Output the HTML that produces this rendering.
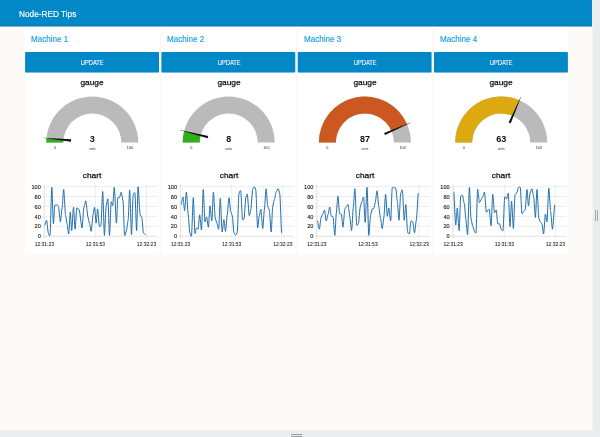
<!DOCTYPE html><html><head><meta charset="utf-8"><title>Node-RED Tips</title><style>
html,body{margin:0;padding:0}
body{width:600px;height:437px;overflow:hidden;background:#fcf9f7;font-family:"Liberation Sans",sans-serif;position:relative}
#hdr{position:absolute;left:0;top:0;width:592.2px;height:26px;color:#fff}
#hdr span{position:absolute;left:19.4px;top:8.7px;font-size:8.9px;transform:scaleX(0.93);transform-origin:0 0;-webkit-text-stroke:0.15px #fff;line-height:10px;white-space:nowrap}
#rs{position:absolute;left:592.5px;top:0;width:7.5px;height:437px;}
#rs i{position:absolute;top:210px;height:11px;width:1px;background:#a9a9a9}
#bs{position:absolute;left:0;top:430.4px;width:600px;height:6.6px}
#bs i{position:absolute;left:291.2px;width:11px;height:1.1px;background:#9c9c9c}
.col{position:absolute;top:25.8px;width:134px;height:227.6px}
.gt{position:absolute;left:5.9px;top:8.5px;font-size:8.7px;transform:scaleX(0.93);transform-origin:0 0;line-height:10px;color:#169fe0;-webkit-text-stroke:0.15px #169fe0;white-space:nowrap}
.btn{position:absolute;left:0;top:26.5px;width:133.9px;height:20.1px;color:#fff;text-align:center;font-size:6.4px;line-height:21.6px;-webkit-text-stroke:0.1px #fff}
.btn span{display:inline-block;transform:translateX(0.5px) scaleX(0.9)}
.lbl{position:absolute;left:0.3px;width:134px;text-align:center;font-size:7.8px;line-height:10px;color:#111;-webkit-text-stroke:0.25px #111;transform:scaleX(1.07)}
.gval{font-size:9px;font-weight:bold;fill:#111}
.gunit{font-size:3.2px;fill:#333}
.gmm{font-size:3.8px;fill:#333}
.xt{font-size:5.6px !important;stroke-width:0.08px !important}
.ctick{font-size:5.6px;fill:#222;stroke:#222;stroke-width:0.12px}
</style></head><body><svg id="bg" width="600" height="437" viewBox="0 0 600 437"><defs><linearGradient id="hs" x1="0" y1="0" x2="0" y2="1"><stop offset="0" stop-color="#014a8a" stop-opacity="0"/><stop offset="1" stop-color="#014a8a" stop-opacity="0.42"/></linearGradient></defs><rect x="25.1" y="26" width="543.3" height="228.7" fill="#ffffff"/><rect x="0" y="0" width="592.2" height="26.4" fill="#0288c7"/><rect x="0" y="24.6" width="592.2" height="1.8" fill="url(#hs)"/><rect x="592.1" y="0" width="0.5" height="437" fill="#ffffff"/><rect x="592.5" y="0" width="7.5" height="437" fill="#ebecee"/><rect x="0" y="430.4" width="600" height="6.6" fill="#ebecee"/><rect x="25.10" y="72.0" width="133.9" height="0.7" rx="0.3" fill="#000" fill-opacity="0.10"/><rect x="25.10" y="52.05" width="133.9" height="20.35" rx="0.9" fill="#0288c7"/><rect x="159.85" y="26.4" width="0.5" height="228.3" fill="#f4efeb"/><rect x="161.40" y="72.0" width="133.9" height="0.7" rx="0.3" fill="#000" fill-opacity="0.10"/><rect x="161.40" y="52.05" width="133.9" height="20.35" rx="0.9" fill="#0288c7"/><rect x="296.15" y="26.4" width="0.5" height="228.3" fill="#f4efeb"/><rect x="297.70" y="72.0" width="133.9" height="0.7" rx="0.3" fill="#000" fill-opacity="0.10"/><rect x="297.70" y="52.05" width="133.9" height="20.35" rx="0.9" fill="#0288c7"/><rect x="432.45" y="26.4" width="0.5" height="228.3" fill="#f4efeb"/><rect x="434.00" y="72.0" width="133.9" height="0.7" rx="0.3" fill="#000" fill-opacity="0.10"/><rect x="434.00" y="52.05" width="133.9" height="20.35" rx="0.9" fill="#0288c7"/><g transform="translate(25.20,72)"><path d="M21.10,70.50 A46,46 0 0 1 113.10,70.50 L96.10,70.50 A29,29 0 0 0 38.10,70.50 Z" fill="#bababa"/><path d="M21.10,70.50 A46,46 0 0 1 21.30,66.17 L38.23,67.77 A29,29 0 0 0 38.10,70.50 Z" fill="#2fb01a"/><path d="M17.33,65.71 L45.91,67.29 L45.68,69.68 L17.31,65.87 Z" fill="#111"/><text x="67.10" y="69.90" text-anchor="middle" class="gval">3</text><text x="67.10" y="77.60" text-anchor="middle" class="gunit">units</text><text x="29.60" y="76.90" text-anchor="middle" class="gmm">0</text><text x="104.80" y="76.70" text-anchor="middle" class="gmm">100</text></g><g transform="translate(25.40,160.5)"><line x1="16.90" y1="75.80" x2="131.80" y2="75.80" stroke="#dedede" stroke-width="0.55"/><line x1="16.90" y1="65.86" x2="131.80" y2="65.86" stroke="#dedede" stroke-width="0.55"/><line x1="16.90" y1="55.92" x2="131.80" y2="55.92" stroke="#dedede" stroke-width="0.55"/><line x1="16.90" y1="45.98" x2="131.80" y2="45.98" stroke="#dedede" stroke-width="0.55"/><line x1="16.90" y1="36.04" x2="131.80" y2="36.04" stroke="#dedede" stroke-width="0.55"/><line x1="16.90" y1="26.10" x2="131.80" y2="26.10" stroke="#dedede" stroke-width="0.55"/><line x1="18.90" y1="24.10" x2="18.90" y2="78.30" stroke="#dedede" stroke-width="0.55"/><line x1="70.00" y1="24.10" x2="70.00" y2="78.30" stroke="#dedede" stroke-width="0.55"/><line x1="121.10" y1="24.10" x2="121.10" y2="78.30" stroke="#dedede" stroke-width="0.55"/><line x1="18.90" y1="24.10" x2="18.90" y2="78.30" stroke="#d4d4d4" stroke-width="0.4"/><line x1="16.90" y1="75.80" x2="131.80" y2="75.80" stroke="#d4d4d4" stroke-width="0.4"/><text x="15.40" y="77.90" text-anchor="end" class="ctick">0</text><text x="15.40" y="67.96" text-anchor="end" class="ctick">20</text><text x="15.40" y="58.02" text-anchor="end" class="ctick">40</text><text x="15.40" y="48.08" text-anchor="end" class="ctick">60</text><text x="15.40" y="38.14" text-anchor="end" class="ctick">80</text><text x="15.40" y="28.20" text-anchor="end" class="ctick">100</text><text x="18.90" y="85.00" text-anchor="middle" class="ctick xt" textLength="19.3" lengthAdjust="spacingAndGlyphs">12:31:23</text><text x="70.00" y="85.00" text-anchor="middle" class="ctick xt" textLength="19.3" lengthAdjust="spacingAndGlyphs">12:31:53</text><text x="121.10" y="85.00" text-anchor="middle" class="ctick xt" textLength="19.3" lengthAdjust="spacingAndGlyphs">12:32:23</text><path d="M19.50,64.60 C19.72,64.41 20.76,59.49 21.20,59.80 C21.64,60.11 22.46,71.91 22.90,72.50 C23.34,73.09 24.15,76.68 24.60,74.90 C25.05,73.12 25.96,27.35 26.40,26.90 C26.84,26.45 27.60,62.61 28.00,63.30 C28.40,63.99 28.99,45.44 29.50,44.70 C30.01,43.96 31.42,44.32 31.90,44.40 C32.38,44.48 32.80,46.14 33.20,46.80 C33.60,47.46 34.55,61.17 35.00,61.20 C35.45,61.23 36.27,48.76 36.70,47.50 C37.13,46.24 37.86,28.63 38.30,28.90 C38.74,29.17 39.66,52.96 40.10,54.30 C40.54,55.64 41.28,62.55 41.70,63.30 C42.12,64.05 42.88,73.96 43.30,73.50 C43.72,73.04 44.51,51.73 44.90,51.60 C45.29,51.47 45.88,70.29 46.30,70.10 C46.72,69.91 47.66,46.85 48.10,46.80 C48.54,46.75 49.26,68.67 49.70,68.70 C50.14,68.73 50.97,48.25 51.50,47.50 C52.03,46.75 53.14,48.72 53.80,49.50 C54.46,50.28 56.00,67.48 56.60,67.40 C57.20,67.32 57.91,48.56 58.40,47.50 C58.89,46.44 59.87,39.95 60.40,40.30 C60.93,40.65 62.02,55.53 62.50,56.40 C62.98,57.27 63.67,62.04 64.10,62.60 C64.53,63.16 65.34,71.12 65.80,70.80 C66.25,70.48 67.16,55.24 67.60,54.30 C68.04,53.36 68.80,46.48 69.20,46.80 C69.60,47.12 70.31,62.53 70.70,62.60 C71.09,62.67 71.77,48.37 72.20,48.50 C72.63,48.63 73.56,65.37 74.00,66.00 C74.44,66.63 75.17,65.96 75.60,64.60 C76.03,63.23 76.86,30.60 77.30,31.00 C77.74,31.40 78.56,74.31 79.00,74.90 C79.44,75.49 80.25,47.52 80.70,46.10 C81.16,44.68 82.06,37.38 82.50,38.50 C82.94,39.62 83.67,74.79 84.10,74.90 C84.53,75.01 85.38,42.45 85.80,41.30 C86.22,40.15 86.90,45.96 87.30,45.40 C87.70,44.84 88.42,26.23 88.90,26.90 C89.38,27.57 90.55,62.20 91.00,62.60 C91.45,63.00 92.00,38.19 92.40,37.20 C92.80,36.21 93.66,37.41 94.10,37.20 C94.54,36.99 95.34,31.57 95.80,31.70 C96.25,31.83 97.16,38.92 97.60,40.60 C98.04,42.28 98.76,73.75 99.20,74.90 C99.64,76.05 100.55,70.69 101.00,70.10 C101.45,69.51 102.27,61.38 102.70,59.80 C103.13,58.22 103.86,29.04 104.30,29.60 C104.74,30.16 105.66,73.99 106.10,74.20 C106.54,74.41 107.26,36.73 107.70,35.10 C108.14,33.47 109.05,31.04 109.50,32.40 C109.95,33.77 110.78,70.34 111.20,70.10 C111.62,69.86 112.26,26.84 112.70,26.20 C113.14,25.56 114.12,52.39 114.60,53.60 C115.08,54.81 115.96,56.37 116.40,57.10 C116.84,57.83 117.56,71.53 118.00,72.20 C118.44,72.87 119.57,74.12 119.80,74.20" fill="none" stroke="#1a69a8" stroke-width="0.98" stroke-linejoin="round" stroke-linecap="round"/></g><g transform="translate(161.60,72)"><path d="M21.10,70.50 A46,46 0 0 1 113.10,70.50 L96.10,70.50 A29,29 0 0 0 38.10,70.50 Z" fill="#bababa"/><path d="M21.10,70.50 A46,46 0 0 1 22.55,59.06 L39.01,63.29 A29,29 0 0 0 38.10,70.50 Z" fill="#2fb01a"/><path d="M18.69,57.99 L46.67,64.02 L46.07,66.34 L18.65,58.14 Z" fill="#111"/><text x="67.10" y="69.90" text-anchor="middle" class="gval">8</text><text x="67.10" y="77.60" text-anchor="middle" class="gunit">units</text><text x="29.60" y="76.90" text-anchor="middle" class="gmm">0</text><text x="104.80" y="76.70" text-anchor="middle" class="gmm">100</text></g><g transform="translate(161.70,160.5)"><line x1="16.90" y1="75.80" x2="131.80" y2="75.80" stroke="#dedede" stroke-width="0.55"/><line x1="16.90" y1="65.86" x2="131.80" y2="65.86" stroke="#dedede" stroke-width="0.55"/><line x1="16.90" y1="55.92" x2="131.80" y2="55.92" stroke="#dedede" stroke-width="0.55"/><line x1="16.90" y1="45.98" x2="131.80" y2="45.98" stroke="#dedede" stroke-width="0.55"/><line x1="16.90" y1="36.04" x2="131.80" y2="36.04" stroke="#dedede" stroke-width="0.55"/><line x1="16.90" y1="26.10" x2="131.80" y2="26.10" stroke="#dedede" stroke-width="0.55"/><line x1="18.90" y1="24.10" x2="18.90" y2="78.30" stroke="#dedede" stroke-width="0.55"/><line x1="70.00" y1="24.10" x2="70.00" y2="78.30" stroke="#dedede" stroke-width="0.55"/><line x1="121.10" y1="24.10" x2="121.10" y2="78.30" stroke="#dedede" stroke-width="0.55"/><line x1="18.90" y1="24.10" x2="18.90" y2="78.30" stroke="#d4d4d4" stroke-width="0.4"/><line x1="16.90" y1="75.80" x2="131.80" y2="75.80" stroke="#d4d4d4" stroke-width="0.4"/><text x="15.40" y="77.90" text-anchor="end" class="ctick">0</text><text x="15.40" y="67.96" text-anchor="end" class="ctick">20</text><text x="15.40" y="58.02" text-anchor="end" class="ctick">40</text><text x="15.40" y="48.08" text-anchor="end" class="ctick">60</text><text x="15.40" y="38.14" text-anchor="end" class="ctick">80</text><text x="15.40" y="28.20" text-anchor="end" class="ctick">100</text><text x="18.90" y="85.00" text-anchor="middle" class="ctick xt" textLength="19.3" lengthAdjust="spacingAndGlyphs">12:31:23</text><text x="70.00" y="85.00" text-anchor="middle" class="ctick xt" textLength="19.3" lengthAdjust="spacingAndGlyphs">12:31:53</text><text x="121.10" y="85.00" text-anchor="middle" class="ctick xt" textLength="19.3" lengthAdjust="spacingAndGlyphs">12:32:23</text><path d="M19.60,44.00 C19.82,43.71 20.87,36.26 21.30,36.50 C21.73,36.74 22.46,50.39 22.90,50.20 C23.34,50.01 24.23,31.54 24.70,31.70 C25.17,31.86 26.06,52.72 26.50,54.30 C26.94,55.88 27.67,71.37 28.10,72.20 C28.53,73.03 29.35,76.96 29.80,75.60 C30.25,74.23 31.16,37.31 31.60,37.20 C32.04,37.09 32.80,71.72 33.20,72.90 C33.60,74.08 34.28,67.56 34.70,67.40 C35.12,67.24 35.97,69.21 36.40,68.70 C36.83,68.19 37.56,54.27 38.00,54.30 C38.44,54.33 39.33,70.39 39.80,69.40 C40.27,68.41 41.16,29.22 41.60,28.90 C42.04,28.58 42.77,60.13 43.20,61.20 C43.63,62.27 44.45,56.19 44.90,56.40 C45.35,56.61 46.26,67.13 46.70,66.70 C47.14,66.27 47.86,45.64 48.30,45.40 C48.74,45.16 49.66,61.03 50.10,60.50 C50.54,59.97 51.26,31.83 51.70,31.70 C52.14,31.57 53.05,55.89 53.50,57.10 C53.95,58.31 54.75,62.15 55.20,62.60 C55.66,63.05 56.56,69.67 57.00,68.70 C57.44,67.73 58.16,37.69 58.60,37.80 C59.04,37.91 59.93,70.67 60.40,71.50 C60.87,72.33 61.76,59.13 62.20,59.10 C62.64,59.07 63.36,71.01 63.80,70.80 C64.24,70.59 65.14,54.91 65.60,53.60 C66.05,52.29 66.86,37.31 67.30,37.20 C67.74,37.09 68.57,50.19 69.00,50.90 C69.43,51.61 70.18,54.48 70.60,55.30 C71.02,56.12 71.77,71.05 72.20,71.80 C72.63,72.55 73.46,74.51 73.90,74.50 C74.34,74.49 75.17,73.09 75.60,71.50 C76.03,69.91 76.76,35.31 77.20,33.70 C77.64,32.09 78.53,29.31 79.00,30.30 C79.47,31.29 80.36,58.03 80.80,59.10 C81.24,60.17 81.97,58.65 82.40,57.80 C82.83,56.95 83.68,38.14 84.10,37.20 C84.52,36.26 85.16,33.01 85.60,33.70 C86.04,34.39 87.06,54.36 87.50,55.00 C87.94,55.64 88.55,51.22 89.00,50.20 C89.45,49.18 90.55,29.84 91.00,28.90 C91.45,27.96 92.10,26.17 92.50,26.20 C92.90,26.23 93.66,27.99 94.10,29.60 C94.54,31.21 95.46,66.38 95.90,67.40 C96.34,68.42 97.07,56.43 97.50,55.70 C97.93,54.97 98.75,48.32 99.20,48.80 C99.66,49.28 100.53,68.15 101.00,68.10 C101.47,68.05 102.36,49.06 102.80,47.50 C103.24,45.94 103.97,28.25 104.40,28.20 C104.83,28.15 105.68,45.27 106.10,46.10 C106.52,46.93 107.16,48.51 107.60,49.50 C108.04,50.49 109.06,71.63 109.50,71.50 C109.94,71.37 110.58,47.36 111.00,46.10 C111.42,44.84 112.26,39.76 112.70,39.20 C113.14,38.64 113.92,32.13 114.40,31.70 C114.88,31.27 115.92,28.12 116.40,28.20 C116.88,28.28 117.66,31.98 118.10,33.70 C118.54,35.42 119.58,70.70 119.80,72.20" fill="none" stroke="#1a69a8" stroke-width="0.98" stroke-linejoin="round" stroke-linecap="round"/></g><g transform="translate(297.80,72)"><path d="M21.10,70.50 A46,46 0 0 1 113.10,70.50 L96.10,70.50 A29,29 0 0 0 38.10,70.50 Z" fill="#bababa"/><path d="M21.10,70.50 A46,46 0 0 1 109.32,52.23 L93.71,58.98 A29,29 0 0 0 38.10,70.50 Z" fill="#cb5820"/><path d="M113.02,50.72 L87.22,63.10 L86.26,60.90 L112.96,50.57 Z" fill="#111"/><text x="67.10" y="69.90" text-anchor="middle" class="gval">87</text><text x="67.10" y="77.60" text-anchor="middle" class="gunit">units</text><text x="29.60" y="76.90" text-anchor="middle" class="gmm">0</text><text x="104.80" y="76.70" text-anchor="middle" class="gmm">100</text></g><g transform="translate(298.00,160.5)"><line x1="16.90" y1="75.80" x2="131.80" y2="75.80" stroke="#dedede" stroke-width="0.55"/><line x1="16.90" y1="65.86" x2="131.80" y2="65.86" stroke="#dedede" stroke-width="0.55"/><line x1="16.90" y1="55.92" x2="131.80" y2="55.92" stroke="#dedede" stroke-width="0.55"/><line x1="16.90" y1="45.98" x2="131.80" y2="45.98" stroke="#dedede" stroke-width="0.55"/><line x1="16.90" y1="36.04" x2="131.80" y2="36.04" stroke="#dedede" stroke-width="0.55"/><line x1="16.90" y1="26.10" x2="131.80" y2="26.10" stroke="#dedede" stroke-width="0.55"/><line x1="18.90" y1="24.10" x2="18.90" y2="78.30" stroke="#dedede" stroke-width="0.55"/><line x1="70.00" y1="24.10" x2="70.00" y2="78.30" stroke="#dedede" stroke-width="0.55"/><line x1="121.10" y1="24.10" x2="121.10" y2="78.30" stroke="#dedede" stroke-width="0.55"/><line x1="18.90" y1="24.10" x2="18.90" y2="78.30" stroke="#d4d4d4" stroke-width="0.4"/><line x1="16.90" y1="75.80" x2="131.80" y2="75.80" stroke="#d4d4d4" stroke-width="0.4"/><text x="15.40" y="77.90" text-anchor="end" class="ctick">0</text><text x="15.40" y="67.96" text-anchor="end" class="ctick">20</text><text x="15.40" y="58.02" text-anchor="end" class="ctick">40</text><text x="15.40" y="48.08" text-anchor="end" class="ctick">60</text><text x="15.40" y="38.14" text-anchor="end" class="ctick">80</text><text x="15.40" y="28.20" text-anchor="end" class="ctick">100</text><text x="18.90" y="85.00" text-anchor="middle" class="ctick xt" textLength="19.3" lengthAdjust="spacingAndGlyphs">12:31:23</text><text x="70.00" y="85.00" text-anchor="middle" class="ctick xt" textLength="19.3" lengthAdjust="spacingAndGlyphs">12:31:53</text><text x="121.10" y="85.00" text-anchor="middle" class="ctick xt" textLength="19.3" lengthAdjust="spacingAndGlyphs">12:32:23</text><path d="M19.60,60.50 C19.83,60.82 20.96,68.83 21.40,68.70 C21.84,68.57 22.56,57.69 23.00,57.10 C23.44,56.51 24.35,53.90 24.80,53.60 C25.25,53.30 26.06,49.23 26.50,49.50 C26.94,49.77 27.76,60.31 28.20,60.50 C28.64,60.69 29.45,54.85 29.90,54.30 C30.35,53.75 31.26,46.45 31.70,46.50 C32.14,46.55 32.87,55.31 33.30,55.70 C33.73,56.09 34.55,55.65 35.00,56.40 C35.45,57.15 36.36,75.09 36.80,74.90 C37.24,74.71 38.00,53.12 38.40,51.60 C38.80,50.08 39.48,35.75 39.90,35.80 C40.32,35.85 41.16,52.31 41.60,53.00 C42.04,53.69 42.86,53.07 43.30,53.60 C43.74,54.13 44.55,66.89 45.00,66.70 C45.45,66.51 46.36,49.60 46.80,48.80 C47.24,48.00 47.97,46.29 48.40,46.10 C48.83,45.91 49.65,43.57 50.10,44.00 C50.55,44.43 51.45,56.08 51.90,57.10 C52.35,58.12 53.16,70.50 53.60,70.10 C54.04,69.70 54.87,48.43 55.30,46.80 C55.73,45.17 56.46,27.51 56.90,28.20 C57.34,28.89 58.23,63.26 58.70,64.60 C59.17,65.94 60.05,63.29 60.50,62.60 C60.95,61.91 61.77,47.63 62.20,46.80 C62.63,45.97 63.36,41.70 63.80,41.30 C64.24,40.90 65.16,35.70 65.60,36.50 C66.04,37.30 66.76,62.27 67.20,61.90 C67.64,61.53 68.53,26.39 69.00,26.90 C69.47,27.41 70.34,73.79 70.80,74.90 C71.25,76.01 72.06,56.33 72.50,55.30 C72.94,54.27 73.78,48.78 74.20,48.50 C74.62,48.22 75.30,48.35 75.70,48.10 C76.10,47.85 76.87,42.69 77.30,42.00 C77.73,41.31 78.55,30.14 79.00,30.30 C79.45,30.46 80.36,45.05 80.80,46.10 C81.24,47.15 81.96,56.24 82.40,57.10 C82.84,57.96 83.75,68.13 84.20,68.10 C84.66,68.07 85.46,57.74 85.90,56.40 C86.34,55.06 87.16,33.73 87.60,33.70 C88.04,33.67 88.88,55.16 89.30,55.70 C89.72,56.24 90.36,47.31 90.80,47.50 C91.24,47.69 92.26,61.28 92.70,60.50 C93.14,59.72 93.78,28.89 94.20,27.60 C94.62,26.31 95.45,27.30 95.90,27.30 C96.36,27.30 97.26,27.08 97.70,27.60 C98.14,28.12 98.87,39.34 99.30,40.60 C99.73,41.86 100.56,60.10 101.00,59.80 C101.44,59.50 102.26,34.18 102.70,33.00 C103.14,31.82 103.95,28.55 104.40,29.60 C104.86,30.65 105.76,59.24 106.20,59.80 C106.64,60.36 107.36,43.54 107.80,44.00 C108.24,44.46 109.14,70.35 109.60,71.50 C110.05,72.65 110.86,73.93 111.30,73.50 C111.74,73.07 112.56,60.98 113.00,60.50 C113.44,60.02 114.25,60.74 114.70,61.20 C115.16,61.66 116.03,72.25 116.50,72.20 C116.97,72.15 117.82,61.33 118.30,59.80 C118.78,58.27 119.95,34.05 120.20,33.00" fill="none" stroke="#1a69a8" stroke-width="0.98" stroke-linejoin="round" stroke-linecap="round"/></g><g transform="translate(434.10,72)"><path d="M21.10,70.50 A46,46 0 0 1 113.10,70.50 L96.10,70.50 A29,29 0 0 0 38.10,70.50 Z" fill="#bababa"/><path d="M21.10,70.50 A46,46 0 0 1 85.37,28.28 L78.62,43.89 A29,29 0 0 0 38.10,70.50 Z" fill="#dcaa10"/><path d="M87.03,24.64 L76.70,51.34 L74.50,50.38 L86.88,24.58 Z" fill="#111"/><text x="67.10" y="69.90" text-anchor="middle" class="gval">63</text><text x="67.10" y="77.60" text-anchor="middle" class="gunit">units</text><text x="29.60" y="76.90" text-anchor="middle" class="gmm">0</text><text x="104.80" y="76.70" text-anchor="middle" class="gmm">100</text></g><g transform="translate(434.30,160.5)"><line x1="16.90" y1="75.80" x2="131.80" y2="75.80" stroke="#dedede" stroke-width="0.55"/><line x1="16.90" y1="65.86" x2="131.80" y2="65.86" stroke="#dedede" stroke-width="0.55"/><line x1="16.90" y1="55.92" x2="131.80" y2="55.92" stroke="#dedede" stroke-width="0.55"/><line x1="16.90" y1="45.98" x2="131.80" y2="45.98" stroke="#dedede" stroke-width="0.55"/><line x1="16.90" y1="36.04" x2="131.80" y2="36.04" stroke="#dedede" stroke-width="0.55"/><line x1="16.90" y1="26.10" x2="131.80" y2="26.10" stroke="#dedede" stroke-width="0.55"/><line x1="18.90" y1="24.10" x2="18.90" y2="78.30" stroke="#dedede" stroke-width="0.55"/><line x1="70.00" y1="24.10" x2="70.00" y2="78.30" stroke="#dedede" stroke-width="0.55"/><line x1="121.10" y1="24.10" x2="121.10" y2="78.30" stroke="#dedede" stroke-width="0.55"/><line x1="18.90" y1="24.10" x2="18.90" y2="78.30" stroke="#d4d4d4" stroke-width="0.4"/><line x1="16.90" y1="75.80" x2="131.80" y2="75.80" stroke="#d4d4d4" stroke-width="0.4"/><text x="15.40" y="77.90" text-anchor="end" class="ctick">0</text><text x="15.40" y="67.96" text-anchor="end" class="ctick">20</text><text x="15.40" y="58.02" text-anchor="end" class="ctick">40</text><text x="15.40" y="48.08" text-anchor="end" class="ctick">60</text><text x="15.40" y="38.14" text-anchor="end" class="ctick">80</text><text x="15.40" y="28.20" text-anchor="end" class="ctick">100</text><text x="18.90" y="85.00" text-anchor="middle" class="ctick xt" textLength="19.3" lengthAdjust="spacingAndGlyphs">12:31:23</text><text x="70.00" y="85.00" text-anchor="middle" class="ctick xt" textLength="19.3" lengthAdjust="spacingAndGlyphs">12:31:53</text><text x="121.10" y="85.00" text-anchor="middle" class="ctick xt" textLength="19.3" lengthAdjust="spacingAndGlyphs">12:32:23</text><path d="M19.60,31.70 C19.83,32.98 20.96,63.98 21.40,64.60 C21.84,65.22 22.56,47.29 23.00,47.50 C23.44,47.71 24.36,70.56 24.80,70.10 C25.24,69.64 25.96,37.16 26.40,35.80 C26.84,34.43 27.73,34.81 28.20,35.10 C28.67,35.39 29.56,42.36 30.00,43.30 C30.44,44.24 31.17,57.89 31.60,59.10 C32.03,60.31 32.84,75.46 33.30,74.20 C33.75,72.94 34.66,27.54 35.10,26.90 C35.54,26.26 36.26,56.28 36.70,57.80 C37.14,59.32 38.05,65.49 38.50,66.00 C38.95,66.51 39.78,70.56 40.20,70.80 C40.62,71.04 41.30,73.83 41.70,72.20 C42.10,70.57 42.86,30.08 43.30,28.90 C43.74,27.72 44.65,41.60 45.10,42.00 C45.55,42.40 46.37,39.41 46.80,39.20 C47.23,38.99 47.96,36.79 48.40,36.50 C48.84,36.21 49.73,31.11 50.20,31.70 C50.67,32.29 51.56,50.91 52.00,51.60 C52.44,52.29 53.21,49.61 53.60,49.50 C53.99,49.39 54.58,48.18 55.00,48.80 C55.42,49.42 56.36,65.89 56.80,65.30 C57.24,64.71 57.96,34.21 58.40,33.70 C58.84,33.19 59.75,51.68 60.20,52.30 C60.66,52.92 61.47,49.07 61.90,49.50 C62.33,49.93 63.06,62.76 63.50,63.30 C63.94,63.84 64.86,63.09 65.30,63.30 C65.74,63.51 66.46,68.43 66.90,68.70 C67.34,68.97 68.25,71.36 68.70,70.10 C69.16,68.84 69.95,37.73 70.40,36.50 C70.86,35.27 71.73,38.64 72.20,38.50 C72.67,38.36 73.55,31.93 74.00,33.00 C74.45,34.07 75.27,65.70 75.70,66.00 C76.13,66.30 76.86,40.52 77.30,40.60 C77.74,40.68 78.66,68.34 79.10,68.10 C79.54,67.86 80.26,35.79 80.70,34.40 C81.14,33.01 82.05,32.69 82.50,32.40 C82.95,32.11 83.75,27.11 84.20,26.90 C84.66,26.69 85.56,25.88 86.00,26.90 C86.44,27.92 87.16,52.06 87.60,53.00 C88.04,53.94 88.96,51.06 89.40,50.90 C89.84,50.74 90.58,49.66 91.00,48.80 C91.42,47.94 92.18,29.03 92.60,28.90 C93.02,28.77 93.78,45.26 94.20,45.40 C94.62,45.54 95.36,33.07 95.80,32.40 C96.24,31.73 97.14,28.07 97.60,28.20 C98.05,28.33 98.84,34.67 99.30,35.80 C99.75,36.93 100.66,57.37 101.10,57.10 C101.54,56.83 102.26,28.90 102.70,28.90 C103.14,28.90 104.08,55.84 104.50,57.10 C104.92,58.36 105.48,60.96 105.90,61.20 C106.32,61.44 107.26,62.82 107.70,63.30 C108.14,63.78 108.86,73.88 109.30,73.50 C109.74,73.12 110.66,54.08 111.10,53.60 C111.54,53.12 112.26,62.21 112.70,61.20 C113.14,60.19 114.02,27.97 114.50,27.60 C114.98,27.23 115.92,50.00 116.40,51.60 C116.88,53.20 117.69,68.97 118.20,68.70 C118.71,68.43 120.03,45.64 120.30,44.70" fill="none" stroke="#1a69a8" stroke-width="0.98" stroke-linejoin="round" stroke-linecap="round"/></g></svg><div id="hdr"><span>Node-RED Tips</span></div><div class="col" style="left:25.20px"><div class="gt">Machine 1</div><div class="btn"><span>UPDATE</span></div><div class="lbl" style="top:52.10px">gauge</div><div class="lbl" style="top:145.00px">chart</div></div><div class="col" style="left:161.50px"><div class="gt">Machine 2</div><div class="btn"><span>UPDATE</span></div><div class="lbl" style="top:52.10px">gauge</div><div class="lbl" style="top:145.00px">chart</div></div><div class="col" style="left:297.80px"><div class="gt">Machine 3</div><div class="btn"><span>UPDATE</span></div><div class="lbl" style="top:52.10px">gauge</div><div class="lbl" style="top:145.00px">chart</div></div><div class="col" style="left:434.10px"><div class="gt">Machine 4</div><div class="btn"><span>UPDATE</span></div><div class="lbl" style="top:52.10px">gauge</div><div class="lbl" style="top:145.00px">chart</div></div><div id="rs"><i style="left:2.6px"></i><i style="left:4.6px"></i></div><div id="bs"><i style="top:3.6px"></i><i style="top:5.7px"></i></div></body></html>
